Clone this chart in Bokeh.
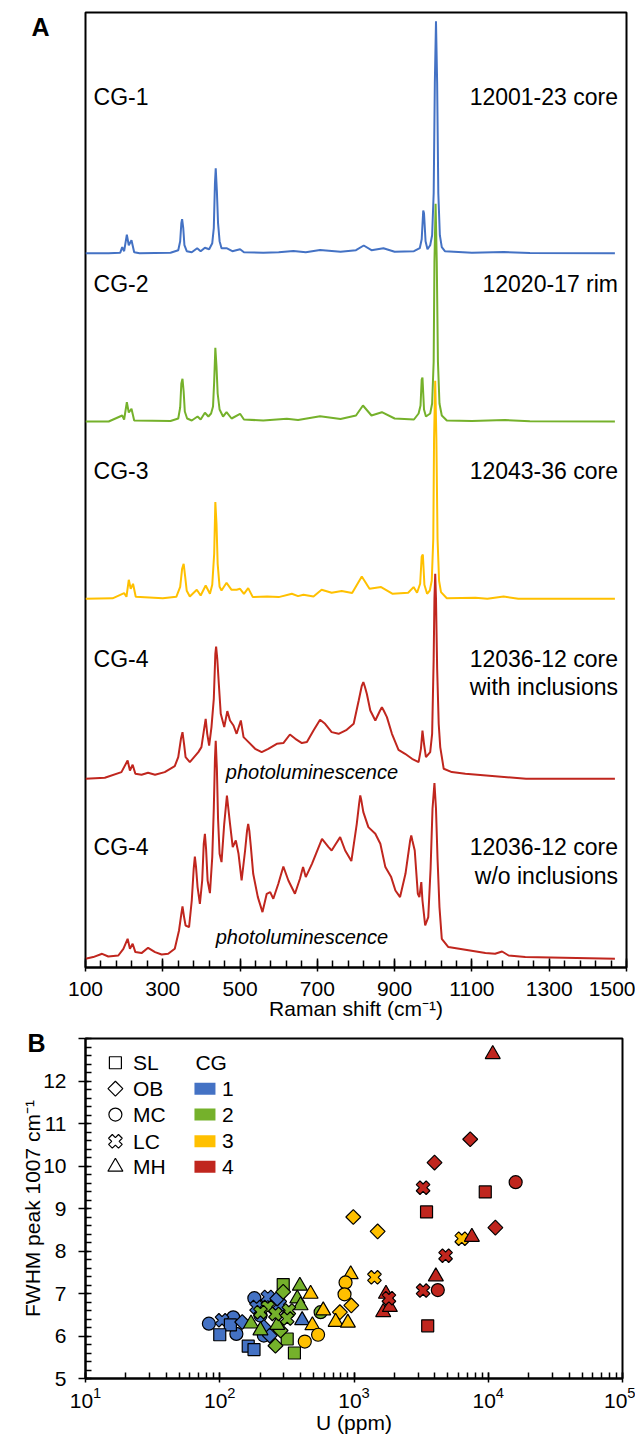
from bokeh.plotting import figure
from bokeh.models import FixedTicker, Range1d, ColumnDataSource, LogTicker
from bokeh.layouts import column
from bokeh.embed import file_html
from bokeh.resources import INLINE
from bokeh.core.properties import value
import math

FONT = "Liberation Sans"
BLUE = "#4472C4"
GREEN = "#75B12B"
YELLOW = "#FFC000"
RED = "#C0261E"

# ---------------- Panel A: Raman spectra (shift in cm-1, intensity in arbitrary units) -------------
cg1_shift = [100, 160, 190, 195, 200, 207, 212, 219, 226, 240, 320, 340, 345, 348, 350, 353, 356, 362,
             375, 389, 398, 409, 420, 428, 432, 435, 437, 440, 443, 447, 452, 465, 480, 500, 510, 560,
             600, 638, 670, 707, 760, 800, 820, 840, 871, 900, 950, 965, 970, 974, 976, 980, 985, 992,
             997, 1001, 1004, 1007, 1010, 1013, 1017, 1022, 1030, 1100, 1182, 1250, 1470]
cg1_int = [0, 0, 0.5, 6, 2, 18.5, 8, 13, 1, 0, 0.5, 3, 12, 30, 34, 25, 8, 2,
           1, 5, 2, 5.5, 4, 10, 25, 70, 85, 62, 30, 12, 5, 5, 2, 4, 1, 0.5,
           1, 2.3, 1, 3.3, 1.5, 3, 7.7, 3, 5, 1.5, 2, 5, 14, 42.7, 40, 12, 4, 8,
           18, 60, 170, 232, 170, 60, 18, 6, 2, 0.5, 1.2, 0.3, 0]

cg2_shift = [100, 160, 195, 200, 207, 212, 219, 226, 320, 340, 345, 348, 351, 354, 357, 363, 375, 390,
             398, 409, 418, 425, 430, 433, 436, 439, 442, 447, 456, 465, 478, 500, 510, 560, 621, 650,
             707, 760, 800, 818, 840, 867, 900, 950, 962, 967, 970, 972, 976, 981, 992, 997, 1001,
             1003, 1006, 1009, 1012, 1016, 1022, 1035, 1100, 1185, 1250, 1470]
cg2_int = [0, 0, 6, 2, 19.3, 9, 12.7, 1, 0.5, 3, 14, 38, 42.7, 30, 10, 3, 1, 5,
           2, 8.7, 5, 8, 15, 40, 73.7, 55, 28, 12, 5, 9.3, 3, 7.7, 2, 1, 2.7, 1.5,
           5.3, 2.5, 6, 16, 6, 9.3, 3, 2, 8, 16, 42, 44, 12, 5, 8, 18, 60,
           160, 217.7, 160, 60, 18, 6, 1, 0.5, 1.5, 0.3, 0]

cg3_shift = [100, 170, 200, 206, 212, 217, 223, 230, 300, 335, 345, 350, 354, 358, 362, 370, 388, 398,
             411, 422, 428, 433, 436, 439, 442, 447, 452, 465, 478, 491, 500, 510, 521, 533, 570, 600,
             634, 650, 664, 690, 711, 737, 763, 790, 815, 835, 865, 895, 935, 949, 958, 966, 970, 973,
             977, 984, 991, 996, 1000, 1002, 1005, 1008, 1011, 1015, 1020, 1035, 1109, 1140, 1182, 1220,
             1470]
cg3_int = [0, 0.5, 5.7, 2, 19, 10, 15, 2, 0.5, 2, 12, 30, 35, 22, 8, 2.3, 9, 3.3,
           13.3, 5, 14, 45, 96.7, 75, 35, 12, 8.3, 16, 9, 9, 10, 5, 10.7, 1.7, 2.3, 1.7,
           5, 2.7, 4, 2.3, 9, 6, 7.7, 5.7, 22.3, 10, 11.7, 5, 6, 11.7, 6, 15, 42, 44.3,
           14, 5, 8.3, 18, 60, 160, 218, 160, 60, 18, 6.7, 0.5, 1, 0, 2.3, 0,
           0]

cg4a_shift = [100, 150, 193, 209, 215, 222, 229, 245, 262, 280, 305, 331, 340, 347, 351, 355, 359, 370,
              392, 400, 407, 411, 415, 420, 426, 432, 436, 438, 441, 445, 450, 459, 467, 474, 483, 491,
              502, 509, 522, 539, 556, 573, 595, 612, 629, 643, 660, 673, 690, 707, 720, 737, 755, 776,
              794, 807, 815, 819, 823, 828, 837, 850, 862, 867, 872, 880, 893, 910, 927, 945, 962, 968,
              972, 976, 981, 992, 997, 1001, 1003, 1005, 1007, 1010, 1014, 1018, 1027, 1048, 1083, 1240,
              1470]
cg4a_int = [0, 1, 6.7, 18.3, 8.3, 14, 5, 4, 6, 4, 6.7, 12.7, 21.7, 40, 46.7, 35, 21.7, 16.7,
            26.7, 31.7, 50, 60, 45, 33.3, 51.7, 80, 125, 132.3, 120, 95, 65, 51.7, 67.7, 58.3, 53.3, 45,
            58.3, 41.7, 36.7, 30, 26.7, 30, 35, 35.7, 44.3, 40, 35.7, 36.7, 48.3, 59, 55, 46.7, 45, 49,
            55, 78.3, 93, 96.7, 92, 85, 68.3, 58.3, 68, 71.7, 68, 61.7, 45, 29, 25, 20, 16.7, 30,
            48.3, 35, 21.7, 26.7, 45, 120, 180, 205, 180, 110, 55, 31.7, 10, 6.7, 5, 0,
            0]

cg4b_shift = [100, 120, 143, 159, 185, 198, 209, 215, 222, 229, 245, 262, 280, 297, 314, 331, 342, 348,
              351, 355, 359, 368, 375, 380, 383, 386, 390, 396, 402, 406, 409, 412, 416, 422, 428, 432,
              435, 437, 440, 443, 447, 452, 459, 466, 474, 481, 489, 496, 504, 513, 518, 521, 524, 528,
              534, 546, 558, 569, 578, 586, 599, 612, 625, 642, 655, 663, 670, 686, 712, 729, 737, 748,
              759, 772, 788, 802, 808, 811, 814, 819, 832, 850, 863, 876, 891, 902, 914, 928, 940, 943,
              946, 952, 960, 964, 969, 972, 979, 987, 993, 998, 1003, 1007, 1011, 1016, 1022, 1039, 1083,
              1135, 1160, 1178, 1195, 1238, 1470]
cg4b_int = [0, 1.7, 5, 2.3, 3.3, 10, 20, 10, 15, 6.7, 5.7, 11, 6.7, 4.3, 5, 10, 28.3, 45,
            52.3, 42, 33.3, 31.7, 58.3, 90, 102.3, 92, 71.7, 55, 78.3, 115, 125, 110, 78.3, 65.7, 101.7, 150,
            200, 218, 190, 140, 105, 96.7, 135, 163.3, 135, 111.7, 118.3, 105, 78.3, 108.3, 128, 135, 128, 111.7,
            85, 61.7, 46.7, 65, 66.7, 60, 75, 92.3, 78.3, 65, 80, 91.7, 81.7, 95, 120, 111.7, 108.3, 115,
            121.7, 108.3, 97.7, 135, 155, 163.3, 158, 146.7, 131.7, 125, 115, 91.7, 81.7, 68.3, 61.7, 85, 118, 123.3,
            118, 108.3, 65, 61.7, 76.7, 58.3, 33.3, 41.7, 90, 150, 175.7, 150, 100, 51.7, 20, 11.7, 9,
            5.7, 5, 7.3, 3.3, 1.7, 0]

spec_x = [cg1_shift, cg2_shift, cg3_shift, cg4a_shift, cg4b_shift]
spec_y = [cg1_int, cg2_int, cg3_int, cg4a_int, cg4b_int]
spec_colors = [BLUE, GREEN, YELLOW, RED, RED]
spec_offsets = [714.3, 546, 368.7, 188.7, 8.7]

left_labels = ["CG-1", "CG-2", "CG-3", "CG-4", "CG-4"]
right_labels = ["12001-23 core", "12020-17 rim", "12043-36 core", "12036-12 core", "with inclusions",
                "12036-12 core", "w/o inclusions"]
raman_ticks = [100, 300, 500, 700, 900, 1100, 1300, 1500]

# ---------------- Panel B: FWHM vs U -------------
u_ppm = [
    # CG-1
    83, 126, 133, 181, 201, 213, 104, 188, 228, 280, 120, 100, 163, 180, 147, 268, 213, 236, 411,
    # CG-2
    297, 318, 360, 297, 284, 260, 395, 378, 400, 171, 268, 201, 228, 327, 260, 318, 201, 564,
    # CG-3
    988, 1500, 955, 785, 6350, 1420, 945, 475, 590, 730, 900, 490, 865, 850, 540, 430,
    # CG-4
    10800, 7550, 4070, 1650, 1850, 1730, 7340, 3980, 11300, 16000, 4210, 9500, 3470, 3540,
    3270, 4810, 3270, 1820,
]
fwhm = [
    6.29, 6.44, 6.05, 6.89, 6.48, 6.01, 6.37, 6.68, 6.92, 6.74, 6.26, 6.03, 5.76, 5.68, 6.33, 6.88, 6.21, 6.01, 6.37,
    7.21, 5.93, 5.60, 7.04, 6.13, 5.77, 7.18, 6.88, 6.72, 6.29, 6.26, 6.13, 6.68, 6.60, 6.52, 6.41, 6.56, 6.56,
    8.80, 8.46, 6.72, 6.56, 8.29, 7.38, 7.45, 6.99, 6.60, 6.33, 6.31, 6.25, 7.26, 6.98, 6.03, 5.87,
    12.63, 8.33, 7.40, 6.56, 6.68, 6.99, 10.63, 10.08, 8.55, 9.62, 7.08, 9.39, 8.92, 6.24,
    9.49, 7.89, 7.07, 6.89,
]
lith = (["MC"] * 6 + ["LC"] * 4 + ["SL"] * 4 + ["OB"] * 4 + ["MH"]
        + ["SL"] * 3 + ["OB"] * 3 + ["MH"] * 6 + ["LC"] * 5 + ["MC"]
        + ["OB"] * 4 + ["LC"] * 2 + ["MH"] * 6 + ["MC"] * 4
        + ["MH"] * 6 + ["OB"] * 3 + ["MC"] * 2 + ["SL"] * 3 + ["LC"] * 4)
cg = [1] * 19 + [2] * 18 + [3] * 16 + [4] * 18

legend_lith = ["SL", "OB", "MC", "LC", "MH"]
legend_cg = ["1", "2", "3", "4"]

cg_colors = {1: BLUE, 2: GREEN, 3: YELLOW, 4: RED}
markers = {"SL": ("square", 12, 0.0), "OB": ("square", 10.5, math.pi / 4), "MC": ("circle", 13, 0.0),
           "LC": ("plus", 14, math.pi / 4), "MH": ("triangle", 15, 0.0)}

# ================= Figure A =================
pA = figure(frame_width=541, frame_height=955, min_border_left=81, min_border_right=13,
            min_border_top=12, min_border_bottom=59,
            x_range=Range1d(100, 1500), y_range=Range1d(0, 955),
            output_backend="svg", toolbar_location=None)
pA.grid.visible = False
pA.outline_line_color = "black"
pA.outline_line_width = 2
pA.outline_line_alpha = 1

for xs, ys, col, off in zip(spec_x, spec_y, spec_colors, spec_offsets):
    pA.line(xs, [off + v for v in ys], line_color=col, line_width=2)

ax = pA.xaxis[0]
ax.ticker = FixedTicker(ticks=raman_ticks, minor_ticks=list(range(100, 1501, 40)))
ax.axis_label = "Raman shift (cm\u207b\u00b9)"
ax.axis_label_text_font = FONT
ax.axis_label_text_font_style = "normal"
ax.axis_label_text_font_size = "21px"
ax.axis_label_text_color = "black"
ax.axis_label_standoff = -2
ax.major_label_text_font = FONT
ax.major_label_text_font_size = "21px"
ax.major_label_text_color = "black"
ax.major_label_standoff = 10
ax.axis_line_width = 2
ax.major_tick_in = 9
ax.major_tick_out = 4
ax.minor_tick_in = 7
ax.minor_tick_out = 0
ax.major_tick_line_width = 1.5
ax.minor_tick_line_width = 1.5

# panel letter "A" rendered as the single label of the (otherwise invisible) left axis
ay = pA.yaxis[0]
ay.ticker = FixedTicker(ticks=[940.5], minor_ticks=[])
ay.major_label_overrides = {940.5: "A"}
ay.axis_line_color = None
ay.major_tick_line_color = None
ay.minor_tick_line_color = None
ay.major_tick_out = 0
ay.major_tick_in = 0
ay.major_label_standoff = 36
ay.major_label_text_font = FONT
ay.major_label_text_font_size = "25px"
ay.major_label_text_font_style = "bold"
ay.major_label_text_color = "black"

pA.text(x=[121] * 5, y=[870.3, 683.7, 496.3, 308.7, 120.3], text=left_labels, text_font=value(FONT),
        text_font_size="23px", text_align="left", text_baseline="middle", text_color="black")
pA.text(x=[1478] * 7, y=[870.3, 683.7, 496.3, 308.7, 280.3, 120.3, 92], text=right_labels,
        text_font=value(FONT), text_font_size="23px",
        text_align="right", text_baseline="middle", text_color="black")
pA.text(x=[686, 660], y=[195.3, 30.3], text=["photoluminescence", "photoluminescence"],
        text_font=value(FONT), text_font_size="20px", text_font_style="italic",
        text_align="center", text_baseline="middle", text_color="black")

# ================= Figure B =================
pB = figure(frame_width=537, frame_height=340, min_border_left=85, min_border_right=13,
            min_border_top=12, min_border_bottom=55, x_axis_type="log",
            x_range=Range1d(10, 1e5), y_range=Range1d(5, 13),
            output_backend="svg", toolbar_location=None)
pB.grid.visible = False
pB.outline_line_color = "black"
pB.outline_line_width = 2
pB.outline_line_alpha = 1

pB.title.text = "B"
pB.title.align = "left"
pB.title.offset = -58
pB.title.standoff = -36
pB.title.vertical_align = "bottom"
pB.title.text_font = FONT
pB.title.text_font_size = "25px"
pB.title.text_font_style = "bold"
pB.title.text_color = "black"

bx = pB.xaxis[0]
bx.ticker = LogTicker(num_minor_ticks=10)
bx.axis_label = "U (ppm)"
by = pB.yaxis[0]
by.ticker = FixedTicker(ticks=list(range(5, 14)), minor_ticks=[5 + 0.2 * i for i in range(41)])
by.major_label_overrides = {13: ""}
by.axis_label = "FWHM peak 1007 cm\u207b\u00b9"
for a in (bx, by):
    a.axis_label_text_font = FONT
    a.axis_label_text_font_style = "normal"
    a.axis_label_text_font_size = "21px"
    a.axis_label_text_color = "black"
    a.major_label_text_font = FONT
    a.major_label_text_font_size = "21px"
    a.major_label_text_color = "black"
    a.axis_line_width = 2
    a.minor_tick_out = 0
    a.minor_tick_in = 6
    a.major_tick_line_width = 1.5
    a.minor_tick_line_width = 1.5
bx.major_tick_in = 6
bx.major_tick_out = 4
bx.major_label_standoff = 4
bx.axis_label_standoff = 0
by.major_tick_in = 3
by.major_tick_out = 7
by.major_label_standoff = 12
by.axis_label_standoff = -4

src = ColumnDataSource(dict(
    u=u_ppm, f=fwhm,
    color=[cg_colors[c] for c in cg],
    marker=[markers[s][0] for s in lith],
    size=[markers[s][1] for s in lith],
    angle=[markers[s][2] for s in lith],
))
pB.scatter(x="u", y="f", marker="marker", size="size", angle="angle", fill_color="color",
           line_color="black", line_width=1.2, source=src)

# legend (drawn inside the plot)
row_y = [12.43, 11.82, 11.21, 10.58, 9.98]
pB.scatter(x=[16.7] * 5, y=row_y, marker=[markers[s][0] for s in legend_lith],
           size=[markers[s][1] for s in legend_lith], angle=[markers[s][2] for s in legend_lith],
           fill_color="white", line_color="black", line_width=1.2)
pB.text(x=[22.6] * 5, y=row_y, text=legend_lith, text_font=value(FONT), text_font_size="21px",
        text_align="left", text_baseline="middle", text_color="black")
pB.text(x=[65.9], y=[row_y[0]], text=["CG"], text_font=value(FONT), text_font_size="21px",
        text_align="left", text_baseline="middle", text_color="black")
pB.rect(x=[77.6] * 4, y=row_y[1:], width=21, height=12, width_units="screen", height_units="screen",
        fill_color=[BLUE, GREEN, YELLOW, RED], line_color=None)
pB.text(x=[104] * 4, y=row_y[1:], text=legend_cg, text_font=value(FONT), text_font_size="21px",
        text_align="left", text_baseline="middle", text_color="black")

layout = column(pA, pB, spacing=0)
open("out.html", "w").write(file_html(layout, INLINE))
